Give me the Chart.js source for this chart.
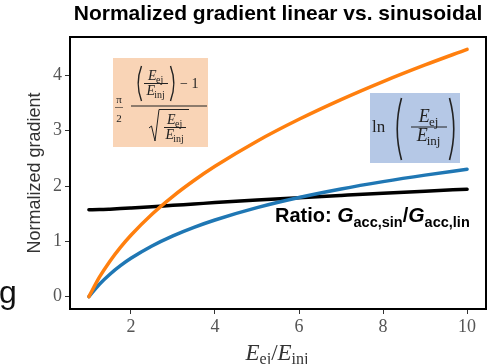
<!DOCTYPE html>
<html>
<head>
<meta charset="utf-8">
<script src="https://cdn.jsdelivr.net/npm/chart.js@4.4.1/dist/chart.umd.min.js"></script>
<style>
  html, body { margin: 0; padding: 0; background: #fff; }
  canvas { display: block; }
</style>
</head>
<body>
<canvas id="grad" width="492" height="364"></canvas>
<script>
// energy ratio E_ej / E_inj
const energyRatio = [1, 1.25, 1.5, 1.75, 2, 2.5, 3, 3.5, 4, 5, 6, 7, 8, 9, 10];
// sinusoidal normalized gradient (orange)
const sinGradient = [0, 0.351, 0.641, 0.891, 1.111, 1.490, 1.814, 2.099, 2.356, 2.810, 3.206, 3.562, 3.888, 4.189, 4.471];
// linear normalized gradient (blue)
const linGradient = [0, 0.223, 0.405, 0.560, 0.693, 0.916, 1.099, 1.253, 1.386, 1.609, 1.792, 1.946, 2.079, 2.197, 2.303];
// ratio sin / lin (black)
const gradRatio = [1.571, 1.574, 1.582, 1.592, 1.603, 1.626, 1.651, 1.675, 1.700, 1.746, 1.789, 1.830, 1.870, 1.907, 1.942];

const xTicks = [2, 4, 6, 8, 10];
const yTicks = [0, 1, 2, 3, 4];

const SERIF = '"Liberation Serif", "Times New Roman", serif';
const SANS = '"Liberation Sans", Arial, sans-serif';

const pts = ys => energyRatio.map((x, i) => ({ x: x, y: ys[i] }));

function lineSet(data, color) {
  return {
    data: pts(data),
    borderColor: color,
    borderWidth: 3.5,
    pointRadius: 0,
    showLine: true,
    fill: false,
    cubicInterpolationMode: 'monotone',
    borderCapStyle: 'round'
  };
}

// E with an upright subscript, centred on cx
function eWidth(ctx, sub, size) {
  ctx.font = 'italic ' + size + 'px ' + SERIF;
  const a = ctx.measureText('E').width;
  ctx.font = Math.round(size * 0.7) + 'px ' + SERIF;
  return a + ctx.measureText(sub).width;
}
function drawE(ctx, cx, base, sub, size) {
  let x = cx - eWidth(ctx, sub, size) / 2;
  ctx.font = 'italic ' + size + 'px ' + SERIF;
  ctx.fillText('E', x, base);
  x += ctx.measureText('E').width;
  ctx.font = Math.round(size * 0.7) + 'px ' + SERIF;
  ctx.fillText(sub, x - size * 0.05, base + size * 0.22);
}
function energyFrac(ctx, cx, barY, halfW, size) {
  drawE(ctx, cx, barY - size * 0.26, 'ej', size);
  ctx.fillRect(cx - halfW, barY - 0.5, halfW * 2, 1);
  drawE(ctx, cx, barY + size * 0.8, 'inj', size);
}
function paren(ctx, x, top, bottom, w, left) {
  const mid = (top + bottom) / 2;
  ctx.beginPath();
  if (left) {
    ctx.moveTo(x + w, top);
    ctx.quadraticCurveTo(x - w * 0.9, mid, x + w, bottom);
  } else {
    ctx.moveTo(x - w, top);
    ctx.quadraticCurveTo(x + w * 0.9, mid, x - w, bottom);
  }
  ctx.stroke();
}

const annotations = {
  id: 'annotations',
  afterDatasetsDraw(chart) {
    const ctx = chart.ctx;
    const a = chart.chartArea;
    ctx.save();

    // frame round the plot
    ctx.strokeStyle = '#000';
    ctx.lineWidth = 2;
    ctx.strokeRect(a.left, a.top, a.right - a.left, a.bottom - a.top);

    ctx.fillStyle = '#222';
    ctx.strokeStyle = '#222';
    ctx.textBaseline = 'alphabetic';
    ctx.textAlign = 'left';

    // sinusoidal formula box
    ctx.fillStyle = '#F9D4B6';
    ctx.fillRect(113, 58, 95, 89);
    ctx.fillStyle = '#222';
    ctx.font = '11px ' + SERIF;
    ctx.textAlign = 'center';
    ctx.fillText('\u03C0', 119, 103);
    ctx.fillText('2', 119, 122);
    ctx.fillRect(115, 107, 8, 0.6);
    ctx.textAlign = 'left';
    ctx.fillRect(131, 105.5, 76, 1);
    energyFrac(ctx, 156, 83.5, 12, 14);
    ctx.lineWidth = 1.4;
    paren(ctx, 138, 66, 101, 3.5, true);
    paren(ctx, 174, 66, 101, 3.5, false);
    ctx.font = '14px ' + SERIF;
    ctx.fillText('\u2212 1', 180, 88);
    // square root
    ctx.lineWidth = 1;
    ctx.beginPath();
    ctx.moveTo(149, 128);
    ctx.lineTo(151.5, 126);
    ctx.lineTo(155, 141);
    ctx.lineTo(159, 109.5);
    ctx.lineTo(189, 109.5);
    ctx.stroke();
    energyFrac(ctx, 175, 127.5, 11, 14);

    // linear formula box
    ctx.fillStyle = '#B5C8E6';
    ctx.fillRect(370, 93, 90, 70);
    ctx.fillStyle = '#222';
    ctx.font = '17px ' + SERIF;
    ctx.fillText('ln', 372, 132);
    ctx.lineWidth = 1.6;
    paren(ctx, 397, 98, 160, 4.5, true);
    paren(ctx, 454, 98, 160, 4.5, false);
    energyFrac(ctx, 429, 127, 18, 18);

    // ratio label
    ctx.fillStyle = '#000';
    let x = 275;
    const base = 222;
    const parts = [
      ['Ratio: ', 'bold 20px ', 0],
      ['G', 'italic bold 21px ', 0],
      ['acc,sin', 'bold 14.5px ', 5],
      ['/', 'bold 20px ', 0],
      ['G', 'italic bold 21px ', 0],
      ['acc,lin', 'bold 14.5px ', 5]
    ];
    parts.forEach(p => {
      ctx.font = p[1] + SANS;
      ctx.fillText(p[0], x, base + p[2]);
      x += ctx.measureText(p[0]).width;
    });

    // x axis title E_ej / E_inj
    ctx.fillStyle = '#333';
    const xs = 23;
    const segs = [
      ['E', 'italic ' + xs + 'px ', 0],
      ['ej', Math.round(xs * 0.7) + 'px ', 4],
      ['/', xs + 'px ', 0],
      ['E', 'italic ' + xs + 'px ', 0],
      ['inj', Math.round(xs * 0.7) + 'px ', 4]
    ];
    let total = 0;
    segs.forEach(s => { ctx.font = s[1] + SERIF; total += ctx.measureText(s[0]).width; });
    x = 277 - total / 2;
    segs.forEach(s => {
      ctx.font = s[1] + SERIF;
      ctx.fillText(s[0], x, 360 + s[2]);
      x += ctx.measureText(s[0]).width;
    });

    // stray glyph at the left edge
    ctx.fillStyle = '#111';
    ctx.font = '32px ' + SANS;
    ctx.fillText('g', -1, 303);

    ctx.restore();
  }
};

new Chart(document.getElementById('grad'), {
  type: 'scatter',
  data: {
    datasets: [
      lineSet(sinGradient, '#FF7F0E'),
      lineSet(linGradient, '#1F77B4'),
      lineSet(gradRatio, '#000000')
    ]
  },
  plugins: [annotations],
  options: {
    responsive: false,
    animation: false,
    devicePixelRatio: 1,
    layout: { padding: { left: 0, right: 6, top: 0, bottom: 0 } },
    plugins: {
      legend: { display: false },
      tooltip: { enabled: false },
      title: {
        display: true,
        text: 'Normalized gradient linear vs. sinusoidal',
        fullSize: false,
        color: '#000',
        font: { family: SANS, size: 21, weight: 'bold' },
        padding: { top: 2, bottom: 9.8 }
      }
    },
    scales: {
      x: {
        type: 'linear',
        min: 0.55,
        max: 10.45,
        afterBuildTicks: s => { s.ticks = xTicks.map(v => ({ value: v })); },
        afterFit: s => { s.height = 55; },
        border: { display: false },
        grid: { drawOnChartArea: false, drawTicks: true, tickLength: 5, color: '#333', lineWidth: 1 },
        ticks: { color: '#555', font: { family: SERIF, size: 18 }, padding: 2, maxRotation: 0 }
      },
      y: {
        type: 'linear',
        min: -0.2235,
        max: 4.694,
        afterBuildTicks: s => { s.ticks = yTicks.map(v => ({ value: v })); },
        afterFit: s => { s.width = 70; },
        border: { display: false },
        grid: { drawOnChartArea: false, drawTicks: true, tickLength: 5, color: '#333', lineWidth: 1 },
        ticks: { color: '#555', font: { family: SERIF, size: 18 }, padding: 3 },
        title: {
          display: true,
          text: 'Normalized gradient',
          color: '#333',
          font: { family: SANS, size: 18 },
          padding: { top: 24, bottom: 0 }
        }
      }
    }
  }
});
</script>
</body>
</html>
